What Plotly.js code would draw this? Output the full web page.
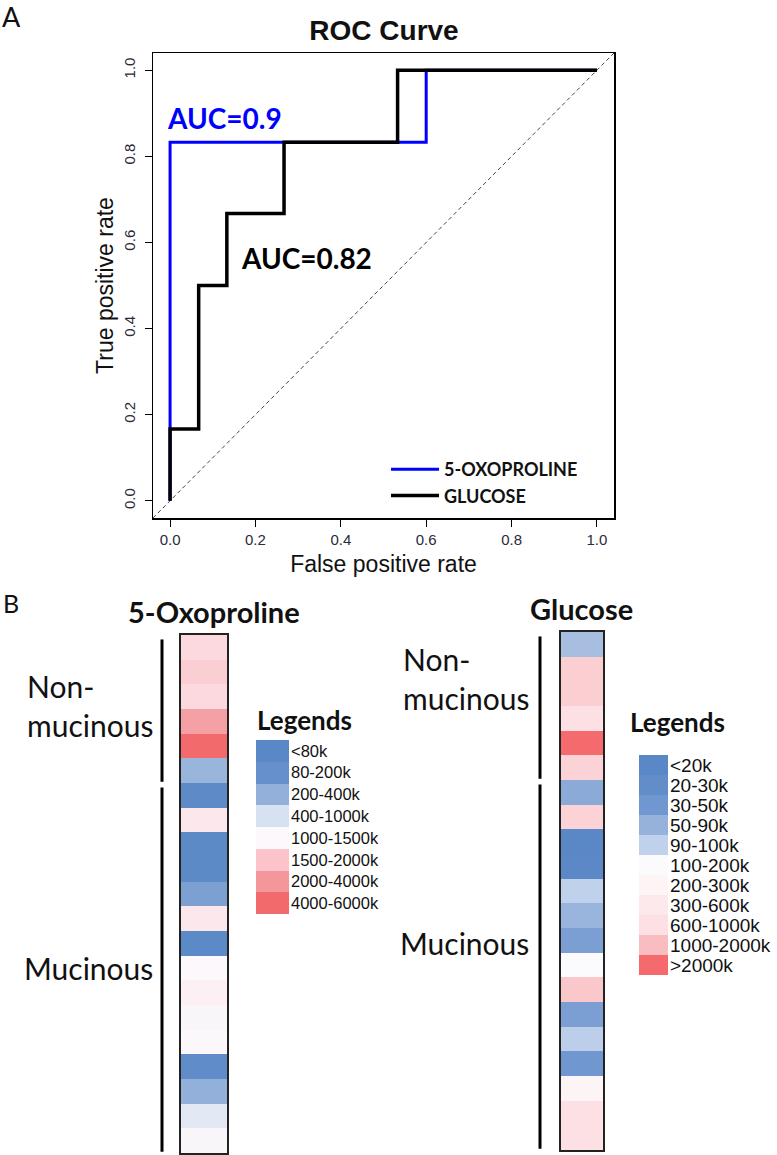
<!DOCTYPE html>
<html><head><meta charset="utf-8">
<script src="https://cdn.plot.ly/plotly-3.0.1.min.js"></script>
<style>html,body{margin:0;padding:0;background:#fff;} #chart{width:777px;height:1155px;}</style>
</head><body><div id="chart"></div>
<script>
// ---------- ROC data ----------
const rocNames = ['5-OXOPROLINE', 'GLUCOSE'];
const oxoFPR = [0, 0, 0.6, 0.6, 1];
const oxoTPR = [0, 0.833, 0.833, 1, 1];
const gluFPR = [0, 0, 0.067, 0.067, 0.133, 0.133, 0.267, 0.267, 0.533, 0.533, 1];
const gluTPR = [0, 0.167, 0.167, 0.5, 0.5, 0.667, 0.667, 0.833, 0.833, 1, 1];
const axisTicks = [0, 0.2, 0.4, 0.6, 0.8, 1.0];
const axisTickLabels = ['0.0', '0.2', '0.4', '0.6', '0.8', '1.0'];

// ---------- Heatmap data ----------
const heatTitles = ['5-Oxoproline', 'Glucose'];
const groupNames = ['Non-<br>mucinous', 'Mucinous'];
const groupSizes = [6, 15];
const oxoLegendLabels = ['&lt;80k', '80-200k', '200-400k', '400-1000k', '1000-1500k', '1500-2000k', '2000-4000k', '4000-6000k'];
const oxoLegendColors = ['#5a88c6', '#6690cb', '#93b0da', '#d6e2f2', '#fdf8fb', '#fac4ca', '#f4979b', '#f36a6c'];
const oxoLevels = [4.6, 4.8, 4.6, 5.8, 7, 2.1, 0.3, 4.3, 0.2, 0.2, 1.5, 4.3, 0.2, 4.0, 4.15, 3.9, 3.95, 0.5, 2, 3.3, 3.9];
const gluLegendLabels = ['&lt;20k', '20-30k', '30-50k', '50-90k', '90-100k', '100-200k', '200-300k', '300-600k', '600-1000k', '1000-2000k', '&gt;2000k'];
const gluLegendColors = ['#5a87c6', '#628dc9', '#7097cf', '#96b2db', '#c0d1eb', '#fbfbfe', '#fdf4f6', '#fde9ec', '#fce0e3', '#f9bcc0', '#f46a6d'];
const gluLevels = [3.4, 8.5, 8.5, 8, 10, 8.4, 2.7, 8.4, 0, 0.2, 4, 3.1, 2.3, 5, 8.7, 2.3, 3.9, 2, 6, 8, 8];

// ---------- helpers ----------
const W = 777, H = 1155;
const px = v => v / W;
const py = v => 1 - v / H;
function auc(x, y) { let a = 0; for (let i = 1; i < x.length; i++) a += (x[i] - x[i-1]) * (y[i] + y[i-1]) / 2; return Math.round(a * 100) / 100; }
function scale(colors) { return colors.map((c, i) => [i / (colors.length - 1), c]); }
const idx = n => Array.from({length: n}, (_, i) => i);

const traces = [
  {x: [-0.04, 1.04], y: [-0.04, 1.04], mode: 'lines', line: {color: '#444', width: 1, dash: '4px,3px'}, showlegend: false, hoverinfo: 'skip', xaxis: 'x', yaxis: 'y'},
  {x: oxoFPR, y: oxoTPR, mode: 'lines', name: rocNames[0], line: {color: '#0000ff', width: 3}, xaxis: 'x', yaxis: 'y'},
  {x: gluFPR, y: gluTPR, mode: 'lines', name: rocNames[1], line: {color: '#000000', width: 3.5}, xaxis: 'x', yaxis: 'y'},
  {type: 'heatmap', x: [0], y: idx(oxoLevels.length), z: oxoLevels.map(v => [v]), colorscale: scale(oxoLegendColors), zmin: 0, zmax: oxoLegendColors.length - 1, showscale: false, xaxis: 'x2', yaxis: 'y2', showlegend: false},
  {type: 'heatmap', x: [0], y: idx(gluLevels.length), z: gluLevels.map(v => [v]), colorscale: scale(gluLegendColors), zmin: 0, zmax: gluLegendColors.length - 1, showscale: false, xaxis: 'x3', yaxis: 'y3', showlegend: false},
  {type: 'heatmap', x: [0], y: idx(oxoLegendLabels.length), z: oxoLegendLabels.map((_, i) => [i]), colorscale: scale(oxoLegendColors), zmin: 0, zmax: oxoLegendColors.length - 1, showscale: false, xaxis: 'x4', yaxis: 'y4', showlegend: false},
  {type: 'heatmap', x: [0], y: idx(gluLegendLabels.length), z: gluLegendLabels.map((_, i) => [i]), colorscale: scale(gluLegendColors), zmin: 0, zmax: gluLegendColors.length - 1, showscale: false, xaxis: 'x5', yaxis: 'y5', showlegend: false}
];

const rocAxis = {
  range: [-0.04, 1.04], tickvals: axisTicks, ticktext: axisTickLabels, ticks: 'outside', ticklen: 7, tickwidth: 1, tickcolor: '#000',
  showline: true, mirror: true, linecolor: '#000', linewidth: 1.5, showgrid: false, zeroline: false,
  tickfont: {family: 'Liberation Sans, Arial', size: 15, color: '#2a2a3a'}
};
const boxAxis = {showline: true, mirror: true, linecolor: '#222', linewidth: 2, showgrid: false, zeroline: false, showticklabels: false, ticks: '', fixedrange: true};
const plainX = {showline: false, showgrid: false, zeroline: false, showticklabels: false, ticks: ''};
const OXO_ROW = 21.8, GLU_ROW = 20;

const layout = {
  width: W, height: H, margin: {l: 0, r: 0, t: 0, b: 0},
  paper_bgcolor: '#fff', plot_bgcolor: '#fff',
  font: {family: 'Liberation Sans, Arial, sans-serif', color: '#111'},
  title: {text: '<b>ROC Curve</b>', font: {size: 28, color: '#111', family: 'Liberation Sans, Arial'}, x: px(384), xanchor: 'center', xref: 'paper', y: py(30), yanchor: 'middle', yref: 'container'},
  showlegend: true,
  legend: {x: px(386), y: py(451), xanchor: 'left', yanchor: 'top', bgcolor: 'rgba(0,0,0,0)', borderwidth: 0, itemwidth: 48,
           font: {family: 'Lato', size: 18, color: '#111', weight: 'bold'}, traceorder: 'normal'},
  xaxis: Object.assign({}, rocAxis, {domain: [px(153), px(614)], anchor: 'y',
          title: {text: 'False positive rate', font: {size: 23, color: '#111'}, standoff: 9}}),
  yaxis: Object.assign({}, rocAxis, {domain: [py(518), py(53)], anchor: 'x', tickangle: -90, ticklabelstandoff: 4,
          title: {text: 'True positive rate', font: {size: 23, color: '#111'}, standoff: 0}}),
  xaxis2: Object.assign({}, boxAxis, {domain: [px(181), px(227)], anchor: 'y2', range: [-0.5, 0.5]}),
  yaxis2: Object.assign({}, boxAxis, {domain: [py(1153), py(635)], anchor: 'x2', range: [oxoLevels.length - 0.5, -0.5]}),
  xaxis3: Object.assign({}, boxAxis, {domain: [px(561), px(603)], anchor: 'y3', range: [-0.5, 0.5]}),
  yaxis3: Object.assign({}, boxAxis, {domain: [py(1150), py(632)], anchor: 'x3', range: [gluLevels.length - 0.5, -0.5]}),
  xaxis4: Object.assign({}, plainX, {domain: [px(256), px(289)], anchor: 'y4', range: [-0.5, 0.5]}),
  yaxis4: {domain: [py(740 + OXO_ROW * oxoLegendLabels.length), py(740)], anchor: 'x4', side: 'right', range: [oxoLegendLabels.length - 0.5, -0.5],
           tickvals: idx(oxoLegendLabels.length), ticktext: oxoLegendLabels, ticks: '', showgrid: false, zeroline: false, showline: false, ticklabelstandoff: 1,
           tickfont: {family: 'Liberation Sans, Arial', size: 16.5, color: '#111'}},
  xaxis5: Object.assign({}, plainX, {domain: [px(639), px(668)], anchor: 'y5', range: [-0.5, 0.5]}),
  yaxis5: {domain: [py(755 + GLU_ROW * gluLegendLabels.length), py(755)], anchor: 'x5', side: 'right', range: [gluLegendLabels.length - 0.5, -0.5],
           tickvals: idx(gluLegendLabels.length), ticktext: gluLegendLabels, ticks: '', showgrid: false, zeroline: false, showline: false, ticklabelstandoff: 1,
           tickfont: {family: 'Liberation Sans, Arial', size: 19, color: '#111'}},
  annotations: [],
  shapes: []
};

const A = layout.annotations;
A.push({text: 'A', xref: 'paper', yref: 'paper', x: 0, y: py(17), xanchor: 'left', yanchor: 'middle', showarrow: false, font: {family: 'Lato', size: 27, color: '#111'}});
A.push({text: 'B', xref: 'paper', yref: 'paper', x: px(1), y: py(603), xanchor: 'left', yanchor: 'middle', showarrow: false, font: {family: 'Lato', size: 25, color: '#111'}});
A.push({text: '<b>AUC=' + auc(oxoFPR, oxoTPR) + '</b>', xref: 'x', yref: 'y', x: -0.012, y: 0.89, xanchor: 'left', yanchor: 'middle', showarrow: false, font: {family: 'Lato', size: 28, color: '#0000ff'}});
A.push({text: '<b>AUC=' + auc(gluFPR, gluTPR) + '</b>', xref: 'x', yref: 'y', x: 0.161, y: 0.563, xanchor: 'left', yanchor: 'middle', showarrow: false, font: {family: 'Lato', size: 28, color: '#000'}});

// heatmap titles / legend headings / group labels
const panels = [
  {title: heatTitles[0], tx: 214, ty: 611, legX: 255, legY: 720, yref: 'y2', barX: 162, labX: 155, labShift: [4, 0]},
  {title: heatTitles[1], tx: 581, ty: 608, legX: 628, legY: 722, yref: 'y3', barX: 540, labX: 531, labShift: [28, 22]}
];
panels.forEach(p => {
  A.push({text: '<b>' + p.title + '</b>', xref: 'paper', yref: 'paper', x: px(p.tx), y: py(p.ty), xanchor: 'center', yanchor: 'middle', showarrow: false, font: {family: 'Lato', size: 29, color: '#111'}});
  A.push({text: '<b>Legends</b>', xref: 'paper', yref: 'paper', x: px(p.legX), y: py(p.legY), xanchor: 'left', yanchor: 'middle', showarrow: false, font: {family: 'Lato', size: 26, color: '#111'}});
  let start = 0;
  groupSizes.forEach((n, g) => {
    const y0 = start - 0.5, y1 = start + n - 0.5;
    layout.shapes.push({type: 'line', xref: 'paper', yref: p.yref, x0: px(p.barX), x1: px(p.barX), y0: y0 + 0.18, y1: y1 - 0.05, line: {color: '#000', width: 3}});
    A.push({text: groupNames[g], xref: 'paper', yref: p.yref, x: px(p.labX), y: (y0 + y1) / 2, yshift: p.labShift[g], xanchor: 'right', yanchor: 'middle', align: 'left', showarrow: false, font: {family: 'Lato', size: 30, color: '#111'}});
    start += n;
  });
});

Plotly.newPlot('chart', traces, layout, {staticPlot: true, displayModeBar: false});
</script>
</body></html>
